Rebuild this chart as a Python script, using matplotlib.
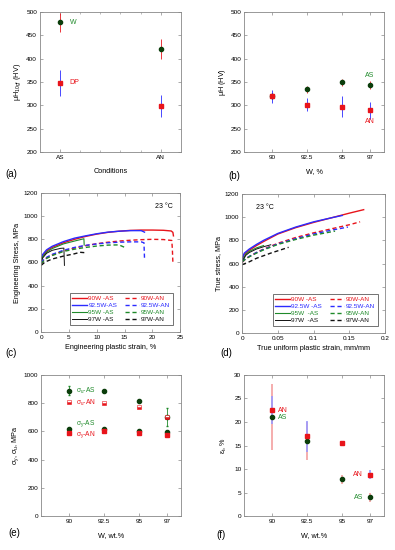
import numpy as np
import matplotlib
matplotlib.use("Agg")
import matplotlib.pyplot as plt

plt.rcParams['font.family'] = ['Liberation Sans', 'DejaVu Sans']
plt.rcParams['mathtext.fontset'] = 'custom'
plt.rcParams['mathtext.rm'] = 'Liberation Sans'
plt.rcParams['mathtext.it'] = 'Liberation Sans'

# ---- data ----
# (a) hardness by condition
cond = ['AS', 'AN']
cond_x = [1, 3]
hw = [478, 421]
hw_err = [21, 21]
hdp = [348, 299]
hdp_err = [27, 23]

# (b) hardness vs W content
wt = [90, 92.5, 95, 97]
hb_as = [320, 334, 349, 344]
hb_as_err = [7, 8, 8, 9]
hb_an = [319, 301, 297, 289]
hb_an_err = [14, 14, 23, 19]

# (c) engineering curves: strain %, stress MPa
eng = {
    '90W -AS':   ([0, 0.3, 1, 2, 4, 6, 8, 10, 12, 14, 16, 18, 20, 22, 23.4, 23.7, 23.8],
                  [620, 660, 700, 730, 770, 800, 825, 845, 860, 870, 877, 880, 880, 878, 872, 860, 830]),
    '92.5W-AS':  ([0, 0.3, 1, 2, 4, 6, 8, 10, 12, 14, 16, 18, 18.6],
                  [625, 670, 710, 740, 780, 810, 830, 848, 862, 870, 875, 875, 862]),
    '95W -AS':   ([0, 0.3, 1, 2, 4, 6, 7.7, 7.75],
                  [610, 650, 690, 720, 760, 785, 805, 750]),
    '97W -AS':   ([0, 0.3, 1, 2, 3.5, 4.1, 4.2],
                  [600, 640, 680, 705, 722, 724, 575]),
    '90W-AN':    ([0, 0.5, 1, 2, 4, 6, 8, 10, 12, 14, 16, 18, 20, 22, 23.5, 23.6, 23.7],
                  [590, 620, 640, 665, 700, 725, 745, 762, 775, 785, 792, 797, 800, 798, 790, 720, 600]),
    '92.5W-AN':  ([0, 0.5, 1, 2, 4, 6, 8, 10, 12, 14, 16, 18, 18.5, 18.6],
                  [600, 625, 645, 670, 705, 730, 748, 760, 770, 775, 778, 778, 770, 630]),
    '95W-AN':    ([0, 0.5, 1, 2, 4, 6, 8, 10, 12, 14, 15.3],
                  [590, 615, 635, 660, 695, 715, 730, 742, 750, 752, 725]),
    '97W-AN':    ([0, 0.5, 1, 2, 4, 6, 7, 7.8, 8],
                  [575, 595, 610, 630, 655, 675, 688, 685, 665]),
}

# (d) true curves: strain mm/mm, stress MPa
true = {
    '90W -AS':   ([0, 0.003, 0.01, 0.02, 0.03, 0.05, 0.075, 0.1, 0.125, 0.15, 0.17],
                  [630, 680, 715, 755, 790, 855, 910, 955, 995, 1035, 1065]),
    '92.5W -AS': ([0, 0.003, 0.01, 0.02, 0.03, 0.05, 0.075, 0.1, 0.125, 0.14],
                  [640, 690, 725, 765, 800, 860, 915, 960, 995, 1015]),
    '95W  -AS':  ([0, 0.005, 0.01, 0.02, 0.03],
                  [620, 680, 705, 735, 755]),
    '97W  -AS':  ([0, 0.005, 0.01, 0.02, 0.03, 0.04],
                  [610, 670, 695, 725, 745, 762]),
    '90W-AN':    ([0, 0.005, 0.01, 0.02, 0.03, 0.05, 0.075, 0.1, 0.125, 0.15, 0.165],
                  [610, 640, 660, 695, 725, 775, 825, 865, 900, 935, 960]),
    '92.5W-AN':  ([0, 0.005, 0.01, 0.02, 0.03, 0.05, 0.075, 0.1, 0.125, 0.148],
                  [615, 642, 662, 695, 722, 770, 815, 855, 888, 915]),
    '95W-AN':    ([0, 0.005, 0.01, 0.02, 0.03, 0.05, 0.075, 0.1, 0.13],
                  [615, 640, 658, 690, 718, 765, 808, 845, 880]),
    '97W-AN':    ([0, 0.01, 0.02, 0.04, 0.065],
                  [590, 615, 645, 690, 740]),
}

# (e) strength vs W
su_as = [890, 885, 815, 700]
su_as_err = [35, 0, 0, 65]
su_an = [808, 800, 775, 705]
sy_as = [620, 615, 600, 595]
sy_an = [587, 603, 590, 575]

# (f) elongation vs W
el_an = [22.5, 17, 15.5, 8.8]
el_an_err = [3, 3.3, 0, 1]
el_as = [21, 16, 7.8, 4]
el_as_err = [7, 4, 1, 1]

RED = '#e8141b'
BLUE = '#2b2bff'
GREEN = '#1f8a2a'
DGREEN = '#0b3d0b'
BLACK = '#111111'
colors = [RED, BLUE, GREEN, BLACK]

fig = plt.figure(figsize=(3.95, 5.5), dpi=100)


def style(ax):
    for s in ax.spines.values():
        s.set_color('#888888')
        s.set_linewidth(0.6)
    ax.tick_params(direction='in', length=2.5, width=0.5, labelsize=4.6,
                   top=True, right=True, color='#888888', pad=2)
    ax.tick_params(which='minor', direction='in', length=1.5, width=0.4,
                   top=True, right=True, color='#888888')


def plab(x, y, s):
    fig.text(x / 395, 1 - y / 550, s, fontsize=7, ha='left', va='center')


LS = 5.2

# (a)
ax = fig.add_axes([0.101, 0.7236, 0.357, 0.2545])
style(ax)
ax.errorbar(cond_x, hw, yerr=hw_err, fmt='o', color=DGREEN, ms=3, ecolor=RED, elinewidth=0.6, capsize=0)
ax.errorbar(cond_x, hdp, yerr=hdp_err, fmt='s', color=RED, ms=3.5, ecolor=BLUE, elinewidth=0.6, capsize=0)
ax.text(1.2, 477, 'W', color=GREEN, fontsize=5, va='center')
ax.text(1.18, 348, 'DP', color=RED, fontsize=5, va='center')
ax.set_xlim(0.6, 3.4)
ax.set_ylim(200, 500)
ax.set_xticks(cond_x)
ax.set_xticklabels(cond)
ax.set_xticks(np.arange(1.4, 3.0, 0.4), minor=True)
ax.set_yticks(np.arange(200, 501, 50))
ax.set_xlabel('Conditions', fontsize=LS, labelpad=6)
ax.set_ylabel(r'$\mathrm{\mu H_{10gf}}$ (HV)', fontsize=LS, labelpad=2)
plab(5, 174, '(a)')

# (b)
ax = fig.add_axes([0.618, 0.7236, 0.354, 0.2545])
style(ax)
ax.errorbar(wt, hb_as, yerr=hb_as_err, fmt='o', color=DGREEN, ms=3, ecolor=RED, elinewidth=0.6, capsize=0)
ax.errorbar(wt, hb_an, yerr=hb_an_err, fmt='s', color=RED, ms=3.5, ecolor=BLUE, elinewidth=0.6, capsize=0)
ax.text(97, 363, 'AS', color=GREEN, fontsize=5, ha='center', va='center')
ax.text(97, 266, 'AN', color=RED, fontsize=5, ha='center', va='center')
ax.set_xlim(88, 98)
ax.set_ylim(200, 500)
ax.set_xticks(wt)
ax.set_xticklabels(['90', '92.5', '95', '97'])
ax.set_yticks(np.arange(200, 501, 50))
ax.set_xlabel('W, %', fontsize=LS, labelpad=6)
ax.set_ylabel(r'$\mathrm{\mu}$H (HV)', fontsize=LS, labelpad=2)
plab(228, 176, '(b)')


def curves(ax, data):
    for i, (lab, (x, y)) in enumerate(data.items()):
        c = colors[i % 4]
        if i < 4:
            lw = [1.0, 1.0, 0.8, 0.7][i]
            ax.plot(x, y, '-', color=c, lw=lw, label=lab)
        else:
            ax.plot(x, y, '--', color=c, lw=1.0, dashes=(3, 2), label=lab)
    leg = ax.legend(ncol=2, fontsize=4.6, labelcolor='linecolor', frameon=True,
                    fancybox=False, edgecolor='#333333', handlelength=2.2,
                    handletextpad=0.3, columnspacing=1.2, borderpad=0.4,
                    labelspacing=0.25, loc='lower right', bbox_to_anchor=(0.97, 0.03))
    leg.get_frame().set_linewidth(0.6)


# (c)
ax = fig.add_axes([0.104, 0.3964, 0.352, 0.2527])
style(ax)
curves(ax, eng)
ax.set_xlim(0, 25)
ax.set_ylim(0, 1200)
ax.set_xticks(np.arange(0, 26, 5))
ax.set_yticks(np.arange(0, 1201, 200))
ax.text(0.88, 0.9, '23 °C', transform=ax.transAxes, fontsize=5, ha='center', va='center')
ax.set_xlabel('Engineering plastic strain, %', fontsize=LS, labelpad=3)
ax.set_ylabel('Engineering Stress, MPa', fontsize=LS, labelpad=2)
plab(5, 353, '(c)')

# (d)
ax = fig.add_axes([0.613, 0.3945, 0.362, 0.2527])
style(ax)
curves(ax, true)
ax.set_xlim(0, 0.2)
ax.set_ylim(0, 1200)
ax.set_xticks([0, 0.05, 0.1, 0.15, 0.2])
ax.set_xticklabels(['0', '0.05', '0.1', '0.15', '0.2'])
ax.set_yticks(np.arange(0, 1201, 200))
ax.text(0.1, 0.9, '23 °C', transform=ax.transAxes, fontsize=5, ha='left', va='center')
ax.set_xlabel('True uniform plastic strain, mm/mm', fontsize=LS, labelpad=3)
ax.set_ylabel('True stress, MPa', fontsize=LS, labelpad=2)
plab(220, 353, '(d)')

# (e)
ax = fig.add_axes([0.104, 0.0618, 0.354, 0.2564])
style(ax)
ax.errorbar(wt, su_as, yerr=su_as_err, fmt='o', color=DGREEN, ms=3, ecolor=GREEN, elinewidth=0.6, capsize=1)
ax.plot(wt, su_an, 's', color=RED, ms=3.5, fillstyle='bottom', markerfacecoloralt='white',
        mec=RED, mew=0.4, zorder=4)
ax.plot(wt, sy_as, 'o', color=DGREEN, ms=3)
ax.plot(wt, sy_an, 's', color=RED, ms=3.5)
ax.text(90.5, 890, r'$\sigma_u$-AS', color=GREEN, fontsize=4.8, va='center')
ax.text(90.5, 800, r'$\sigma_u$-AN', color=RED, fontsize=4.8, va='center')
ax.text(90.5, 655, r'$\sigma_y$-AS', color=GREEN, fontsize=4.8, va='center')
ax.text(90.5, 580, r'$\sigma_y$-AN', color=RED, fontsize=4.8, va='center')
ax.set_xlim(88, 98)
ax.set_ylim(0, 1000)
ax.set_xticks(wt)
ax.set_xticklabels(['90', '92.5', '95', '97'])
ax.set_yticks(np.arange(0, 1001, 200))
ax.set_xlabel('W, wt.%', fontsize=LS, labelpad=6)
ax.set_ylabel(r'$\sigma_y$, $\sigma_u$, MPa', fontsize=LS, labelpad=2)
plab(8, 533, '(e)')

# (f)
ax = fig.add_axes([0.618, 0.0618, 0.354, 0.2564])
style(ax)
ax.errorbar(wt, el_as, yerr=el_as_err, fmt='none', ecolor='#f4a0a0', elinewidth=1.2, capsize=0)
ax.errorbar(wt, el_an, yerr=el_an_err, fmt='none', ecolor='#9a9aff', elinewidth=1.2, capsize=0)
ax.plot(wt, el_as, 'o', color=DGREEN, ms=3)
ax.plot(wt, el_an, 's', color=RED, ms=3.5)
ax.text(90.4, 22.5, 'AN', color=RED, fontsize=5, va='center')
ax.text(90.4, 21, 'AS', color=GREEN, fontsize=5, va='center')
ax.text(96.5, 8.8, 'AN', color=RED, fontsize=5, va='center', ha='right')
ax.text(96.5, 4, 'AS', color=GREEN, fontsize=5, va='center', ha='right')
ax.set_xlim(88, 98)
ax.set_ylim(0, 30)
ax.set_xticks(wt)
ax.set_xticklabels(['90', '92.5', '95', '97'])
ax.set_yticks(np.arange(0, 31, 5))
ax.set_xlabel('W, wt.%', fontsize=LS, labelpad=6)
ax.set_ylabel(r'$\varepsilon_t$, %', fontsize=LS, labelpad=4)
plab(216, 535, '(f)')

fig.savefig('out.png', dpi=100)
